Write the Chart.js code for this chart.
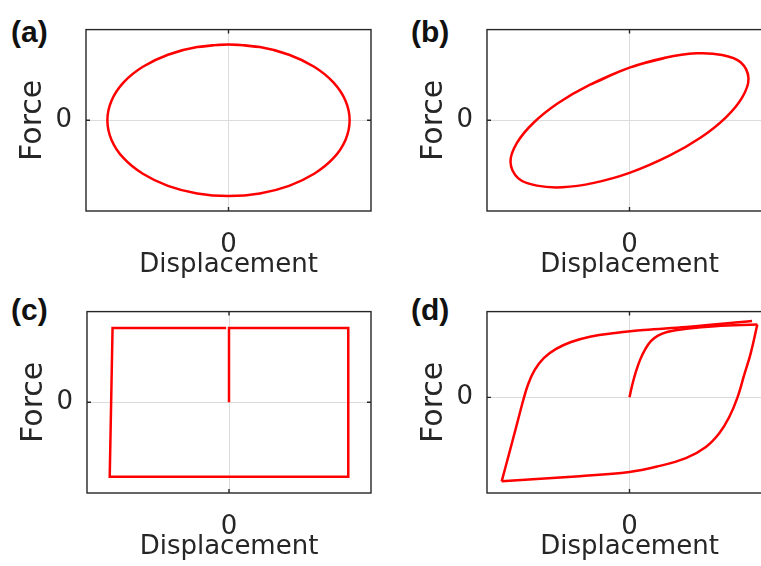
<!DOCTYPE html>
<html>
<head>
<meta charset="utf-8">
<script src="https://cdn.jsdelivr.net/npm/chart.js@4.4.1/dist/chart.umd.min.js"></script>
<style>
  html, body { margin: 0; padding: 0; background: #fff; overflow: hidden; width: 761px; height: 566px; }
  .panel { position: absolute; }
  .tag { position: absolute; font: bold 30px "Liberation Sans", Arial, sans-serif; line-height: 30px; color: #111; }
</style>
</head>
<body>
<div class="tag" style="left:11px;top:17px">(a)</div>
<div class="tag" style="left:411px;top:17px">(b)</div>
<div class="tag" style="left:11px;top:295px">(c)</div>
<div class="tag" style="left:411px;top:295px">(d)</div>
<canvas id="chartA" class="panel" width="380" height="283" style="left:0;top:0"></canvas>
<canvas id="chartB" class="panel" width="380" height="283" style="left:401px;top:0"></canvas>
<canvas id="chartC" class="panel" width="379" height="283" style="left:1px;top:282px"></canvas>
<canvas id="chartD" class="panel" width="380" height="283" style="left:401px;top:282px"></canvas>
<script>
// axis text
const xTitle = 'Displacement';
const yTitle = 'Force';
const tickValues = [0];
const tickLabels = ['0'];

// (a) viscous damper - ellipse (first/last point repeated past the join so the loop closes smoothly)
const dispA  = [-0.22, 0, 0.22, 0.425, 0.601, 0.736, 0.821, 0.85, 0.821, 0.736, 0.601, 0.425, 0.22, 0,
                -0.22, -0.425, -0.601, -0.736, -0.821, -0.85, -0.821, -0.736, -0.601, -0.425, -0.22, 0, 0.22];
const forceA = [0.807, 0.835, 0.807, 0.723, 0.59, 0.418, 0.216, 0, -0.216, -0.418, -0.59, -0.723, -0.807, -0.835,
                -0.807, -0.723, -0.59, -0.418, -0.216, 0, 0.216, 0.418, 0.59, 0.723, 0.807, 0.835, 0.807];

// (b) viscoelastic - tilted ellipse
const dispB  = [-0.28, 0, 0.25, 0.47, 0.65, 0.78, 0.835, 0.79, 0.675, 0.5, 0.28, 0,
                -0.25, -0.47, -0.65, -0.78, -0.835, -0.79, -0.675, -0.5, -0.28, 0, 0.25];
const forceB = [0.39, 0.58, 0.69, 0.738, 0.72, 0.64, 0.46, 0.25, 0.03, -0.19, -0.39, -0.58,
                -0.69, -0.738, -0.72, -0.64, -0.46, -0.25, -0.03, 0.19, 0.39, 0.58, 0.69];

// (c) friction - rectangle
const dispC  = [0, 0, 0.84, 0.84, -0.84, -0.82, -0.02];
const forceC = [0, 0.82, 0.82, -0.82, -0.82, 0.82, 0.82];

// (d) hysteretic - virgin curve, unloading branch, reloading branch
const dispD1  = [0, 0.02, 0.045, 0.075, 0.11, 0.15, 0.2, 0.27, 0.4, 0.6, 0.897];
const forceD1 = [0, 0.15, 0.3, 0.44, 0.56, 0.655, 0.72, 0.765, 0.8, 0.83, 0.85];
const dispD2  = [0.897, 0.85, 0.804, 0.758, 0.7, 0.63, 0.536, 0.396, 0.187, 0, -0.35, -0.897];
const forceD2 = [0.85, 0.51, 0.256, 0, -0.23, -0.42, -0.58, -0.71, -0.81, -0.87, -0.92, -0.98];
const dispD3  = [-0.897, -0.842, -0.795, -0.75, -0.712, -0.665, -0.6, -0.515, -0.41, -0.27, -0.1, 0.1, 0.4, 0.86];
const forceD3 = [-0.98, -0.64, -0.345, -0.06, 0.15, 0.32, 0.46, 0.565, 0.645, 0.71, 0.75, 0.785, 0.82, 0.89];

const textColor = '#262626';
const fontFamily = '"DejaVu Sans", sans-serif';

function pts(xs, ys) {
    return xs.map((x, i) => ({ x: x, y: ys[i] }));
}

function series(xs, ys, tension) {
    return {
        data: pts(xs, ys),
        showLine: true,
        borderColor: '#ff0000',
        borderWidth: 2.5,
        pointRadius: 0,
        tension: tension,
        fill: false
    };
}

// box round the plot area plus small inward ticks at zero
const framePlugin = {
    id: 'frame',
    afterDatasetsDraw(chart) {
        const { ctx, chartArea: a, scales } = chart;
        const x0 = scales.x.getPixelForValue(0);
        const y0 = scales.y.getPixelForValue(0);
        ctx.save();
        ctx.strokeStyle = textColor;
        ctx.lineWidth = 1.4;
        ctx.strokeRect(a.left, a.top, a.right - a.left, a.bottom - a.top);
        ctx.beginPath();
        ctx.moveTo(x0, a.top); ctx.lineTo(x0, a.top + 4);
        ctx.moveTo(x0, a.bottom); ctx.lineTo(x0, a.bottom - 4);
        ctx.moveTo(a.left, y0); ctx.lineTo(a.left + 4, y0);
        ctx.moveTo(a.right, y0); ctx.lineTo(a.right - 4, y0);
        ctx.stroke();
        ctx.restore();
    }
};

function onlyZero(scale) {
    scale.ticks = tickValues.map(v => ({ value: v }));
}

function makePanel(id, datasets, yMin, yMax) {
    const ctx = document.getElementById(id).getContext('2d');
    return new Chart(ctx, {
        type: 'scatter',
        data: { datasets: datasets },
        plugins: [framePlugin],
        options: {
            responsive: false,
            animation: false,
            events: [],
            layout: { padding: { top: 29, right: 9, left: 0, bottom: 0 } },
            plugins: { legend: { display: false }, tooltip: { enabled: false } },
            scales: {
                x: {
                    type: 'linear',
                    min: -1,
                    max: 1,
                    afterBuildTicks: onlyZero,
                    afterFit: s => { s.height = 72; },
                    grid: { color: '#dcdcdc', lineWidth: 1, drawTicks: false },
                    border: { display: false },
                    ticks: {
                        padding: 19,
                        color: textColor,
                        font: { family: fontFamily, size: 26 },
                        callback: (v) => tickLabels[tickValues.indexOf(v)]
                    },
                    title: {
                        display: true,
                        text: xTitle,
                        color: textColor,
                        font: { family: fontFamily, size: 26 },
                        padding: { top: 0, bottom: 2 }
                    }
                },
                y: {
                    type: 'linear',
                    min: yMin,
                    max: yMax,
                    afterBuildTicks: onlyZero,
                    afterFit: s => { s.width = 86; },
                    grid: { color: '#dcdcdc', lineWidth: 1, drawTicks: false },
                    border: { display: false },
                    ticks: {
                        padding: 14,
                        color: textColor,
                        font: { family: fontFamily, size: 26 },
                        callback: (v) => tickLabels[tickValues.indexOf(v)]
                    },
                    title: {
                        display: true,
                        text: yTitle,
                        color: textColor,
                        font: { family: fontFamily, size: 30 },
                        padding: { top: 15, bottom: 0 }
                    }
                }
            }
        }
    });
}

makePanel('chartA', [series(dispA, forceA, 0.35)], -1, 1);
makePanel('chartB', [series(dispB, forceB, 0.35)], -1, 1);
makePanel('chartC', [series(dispC, forceC, 0)], -1, 1);
makePanel('chartD', [
    series(dispD1, forceD1, 0.4),
    series(dispD2, forceD2, 0.4),
    series(dispD3, forceD3, 0.4)
], -1.116, 1);
</script>
</body>
</html>
